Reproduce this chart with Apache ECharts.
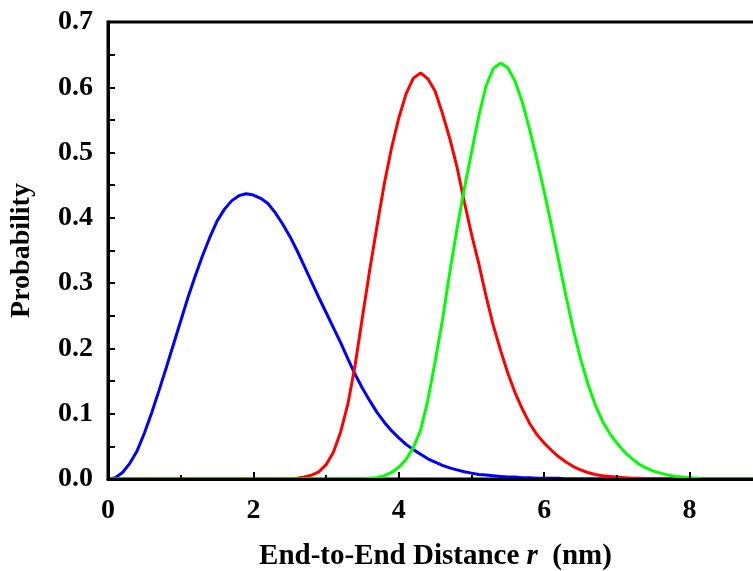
<!DOCTYPE html>
<html>
<head>
<meta charset="utf-8">
<script src="https://cdn.jsdelivr.net/npm/echarts@6/dist/echarts.min.js"></script>
<style>
  html, body { margin: 0; padding: 0; background: #fff; }
  #chart { width: 753px; height: 571px; }
</style>
</head>
<body>
<div id="chart"></div>
<script>
// End-to-end distance r (nm), sampled every 0.1 nm
const rValues = [
  0.0, 0.1, 0.2, 0.3, 0.4, 0.5, 0.6, 0.7, 0.8, 0.9,
  1.0, 1.1, 1.2, 1.3, 1.4, 1.5, 1.6, 1.7, 1.8, 1.9,
  2.0, 2.1, 2.2, 2.3, 2.4, 2.5, 2.6, 2.7, 2.8, 2.9,
  3.0, 3.1, 3.2, 3.3, 3.4, 3.5, 3.6, 3.7, 3.8, 3.9,
  4.0, 4.1, 4.2, 4.3, 4.4, 4.5, 4.6, 4.7, 4.8, 4.9,
  5.0, 5.1, 5.2, 5.3, 5.4, 5.5, 5.6, 5.7, 5.8, 5.9,
  6.0, 6.1, 6.2, 6.3, 6.4, 6.5, 6.6, 6.7, 6.8, 6.9,
  7.0, 7.1, 7.2, 7.3, 7.4, 7.5, 7.6, 7.7, 7.8, 7.9,
  8.0, 8.1, 8.2, 8.3, 8.4, 8.5, 8.6, 8.7, 8.8, 8.9,
  9.0
];

// Probability distributions, one value per r above
const blueValues = [
  0.000, 0.002, 0.010, 0.024, 0.043, 0.070, 0.101, 0.135, 0.170, 0.206,
  0.242, 0.278, 0.311, 0.342, 0.370, 0.395, 0.413, 0.426, 0.434, 0.437,
  0.435, 0.430, 0.422, 0.408, 0.391, 0.372, 0.350, 0.326, 0.302, 0.278,
  0.255, 0.232, 0.209, 0.184, 0.160, 0.139, 0.120, 0.102, 0.087, 0.074,
  0.063, 0.053, 0.045, 0.038, 0.031, 0.026, 0.021, 0.017, 0.014, 0.011,
  0.009, 0.007, 0.006, 0.005, 0.004, 0.003, 0.003, 0.002, 0.002, 0.001,
  0.001, 0.001, 0.001, 0, 0, 0, 0, 0, 0, 0,
  0, 0, 0, 0, 0, 0, 0, 0, 0, 0,
  0, 0, 0, 0, 0, 0, 0, 0, 0, 0,
  0
];

const redValues = [
  0, 0, 0, 0, 0, 0, 0, 0, 0, 0,
  0, 0, 0, 0, 0, 0, 0, 0, 0, 0,
  0, 0, 0, 0, 0, 0, 0.001, 0.003, 0.006, 0.011,
  0.022, 0.041, 0.072, 0.115, 0.175, 0.248, 0.320, 0.387, 0.452, 0.507,
  0.553, 0.590, 0.614, 0.622, 0.613, 0.594, 0.560, 0.522, 0.478, 0.425,
  0.375, 0.330, 0.280, 0.235, 0.197, 0.162, 0.132, 0.107, 0.085, 0.068,
  0.055, 0.044, 0.034, 0.026, 0.019, 0.014, 0.010, 0.007, 0.005, 0.004,
  0.003, 0.002, 0.001, 0.001, 0, 0, 0, 0, 0, 0,
  0, 0, 0, 0, 0, 0, 0, 0, 0, 0,
  0
];

const greenValues = [
  0, 0, 0, 0, 0, 0, 0, 0, 0, 0,
  0, 0, 0, 0, 0, 0, 0, 0, 0, 0,
  0, 0, 0, 0, 0, 0, 0, 0, 0, 0,
  0, 0, 0, 0, 0, 0, 0.001, 0.002, 0.005, 0.010,
  0.018, 0.030, 0.048, 0.075, 0.121, 0.180, 0.243, 0.316, 0.383, 0.444,
  0.500, 0.556, 0.602, 0.629, 0.637, 0.630, 0.609, 0.577, 0.535, 0.489,
  0.440, 0.388, 0.334, 0.280, 0.229, 0.184, 0.146, 0.114, 0.089, 0.070,
  0.055, 0.042, 0.032, 0.023, 0.017, 0.012, 0.009, 0.006, 0.004, 0.003,
  0.002, 0.001, 0, 0, 0, 0, 0, 0, 0, 0,
  0
];

const yTickLabels = ['0.0', '0.1', '0.2', '0.3', '0.4', '0.5', '0.6', '0.7'];

const FONT = "'Liberation Serif', 'Times New Roman', serif";

function pairs(values) {
  return rValues.map((r, i) => [r, values[i]]);
}

function curve(name, color, values) {
  return {
    name: name,
    type: 'line',
    data: pairs(values),
    showSymbol: false,
    smooth: false,
    z: 2,
    lineStyle: { color: color, width: 3 },
    itemStyle: { color: color },
    emphasis: { disabled: true }
  };
}

const chart = echarts.init(document.getElementById('chart'), null, { renderer: 'canvas' });

const tickLabelStyle = {
  color: '#000',
  fontFamily: FONT,
  fontWeight: 'bold',
  fontSize: 28
};

chart.setOption({
  animation: false,
  backgroundColor: '#fff',
  grid: {
    left: 108,
    right: -82,
    top: 22,
    bottom: 92,
    outerBoundsMode: 'none',
    containLabel: false,
    show: true,
    borderColor: '#000',
    borderWidth: 3,
    backgroundColor: 'transparent'
  },
  xAxis: {
    type: 'value',
    min: 0,
    max: 10,
    interval: 2,
    z: 3,
    axisLine: { show: true, onZero: false, lineStyle: { color: '#000', width: 3 } },
    axisTick: { show: true, inside: true, length: 7, lineStyle: { color: '#000', width: 2 } },
    minorTick: { show: true, splitNumber: 2, length: 4, lineStyle: { color: '#000', width: 2 } },
    splitLine: { show: false },
    minorSplitLine: { show: false },
    axisLabel: Object.assign({ margin: 18 }, tickLabelStyle),
    name: '{b|End-to-End Distance }{i|r}{b|  (nm)}',
    nameLocation: 'middle',
    nameGap: 63,
    nameTextStyle: {
      color: '#000',
      fontFamily: FONT,
      fontWeight: 'bold',
      fontSize: 29,
      padding: [0, 72, 0, 0],
      rich: {
        b: { fontFamily: FONT, fontWeight: 'bold', fontSize: 29, color: '#000' },
        i: { fontFamily: FONT, fontWeight: 'bold', fontStyle: 'italic', fontSize: 29, color: '#000' }
      }
    }
  },
  yAxis: {
    type: 'value',
    min: 0,
    max: 0.7,
    interval: 0.1,
    z: 3,
    axisLine: { show: true, lineStyle: { color: '#000', width: 3 } },
    axisTick: { show: true, inside: true, length: 7, lineStyle: { color: '#000', width: 2 } },
    minorTick: { show: true, splitNumber: 2, length: 7, lineStyle: { color: '#000', width: 2 } },
    splitLine: { show: false },
    minorSplitLine: { show: false },
    axisLabel: Object.assign({
      margin: 15,
      formatter: function (v) { return yTickLabels[Math.round(v * 10)]; }
    }, tickLabelStyle),
    name: 'Probability',
    nameLocation: 'middle',
    nameGap: 72,
    nameRotate: 90,
    nameTextStyle: {
      color: '#000',
      fontFamily: FONT,
      fontWeight: 'bold',
      fontSize: 28
    }
  },
  series: [
    curve('blue', '#0000ff', blueValues),
    curve('red', '#ff0000', redValues),
    curve('green', '#00ff00', greenValues)
  ]
});
</script>
</body>
</html>
